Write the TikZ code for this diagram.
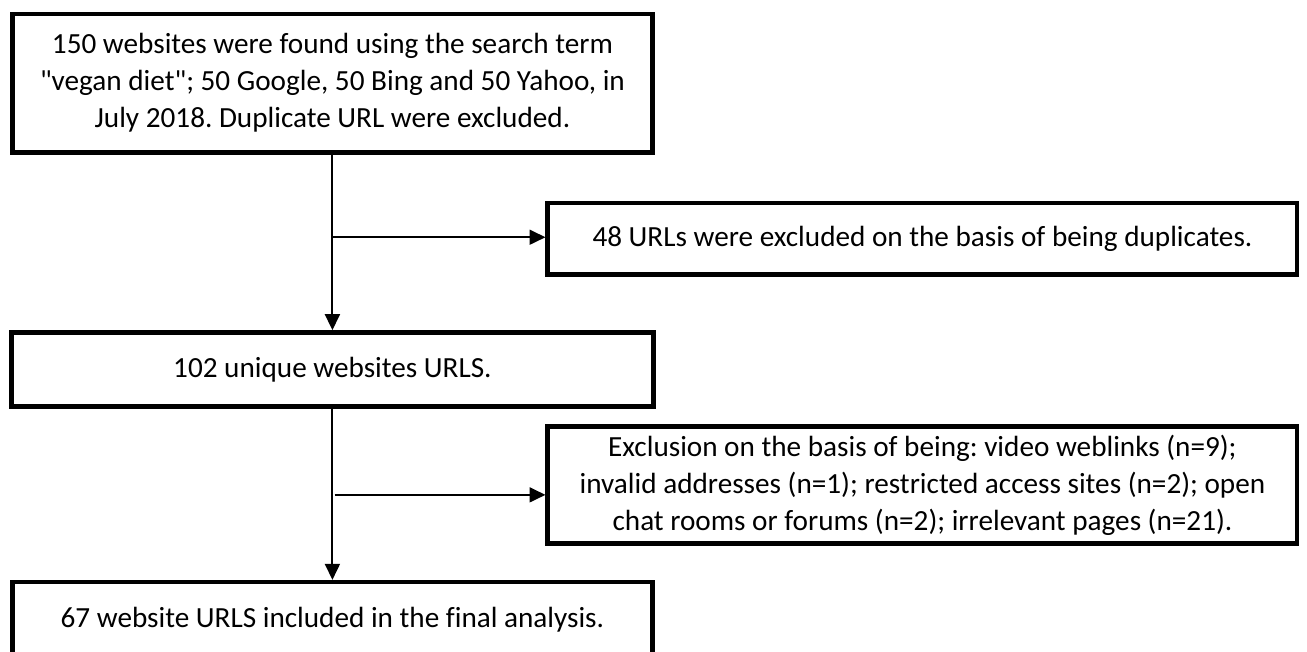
\documentclass[tikz,border=0pt]{standalone}
\usepackage{fontspec}
\newfontfamily\calib{Carlito}[Ligatures=NoCommon]
\usepackage{tikz}
\usetikzlibrary{arrows.meta}
\frenchspacing

\begin{document}
\begin{tikzpicture}[every node/.style={font=\calib\fontsize{11}{13.9}\selectfont}, >={Triangle[length=6pt, width=5.6pt]}, box/.style={draw, line width=1.7pt, align=center, inner sep=2pt}, link/.style={->, line width=0.75pt}]
	\useasboundingbox (0,0) rectangle (17.30,-8.62);
	\node[box, minimum width=8.47cm, minimum height=1.83cm] (found) at (4.40,-1.10) {150 websites were found using the search term\\"vegan diet"; 50 Google, 50 Bing and 50 Yahoo, in\\July 2018. Duplicate URL were excluded.};
	\node[box, minimum width=9.92cm, minimum height=0.95cm] (dup) at (12.21,-3.16) {48 URLs were excluded on the basis of being duplicates.};
	\node[box, minimum width=8.50cm, minimum height=0.98cm] (uniq) at (4.40,-4.89) {102 unique websites URLS.};
	\node[box, minimum width=9.92cm, minimum height=1.55cm] (excl) at (12.21,-6.42) {Exclusion on the basis of being: video weblinks (n=9);\\invalid addresses (n=1); restricted access sites (n=2); open\\chat rooms or forums (n=2); irrelevant pages (n=21).};
	\node[box, minimum width=8.47cm, minimum height=0.99cm] (final) at (4.40,-8.20) {67 website URLS included in the final analysis.};
	\coordinate (j1) at (4.40,-3.14);
	\coordinate (j2) at (4.43,-6.55);
	\draw[link] (found) -- (uniq);
	\draw[link] (j1) -- (j1 -| dup.west);
	\draw[link] (uniq) -- (final);
	\draw[link] (j2) -- (j2 -| excl.west);
\end{tikzpicture}
\end{document}
